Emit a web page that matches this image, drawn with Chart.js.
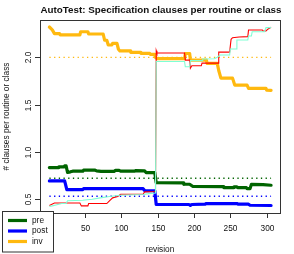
<!DOCTYPE html>
<html>
<head>
<meta charset="utf-8">
<script src="https://cdn.jsdelivr.net/npm/chart.js@4/dist/chart.umd.min.js"></script>
<style>
  html, body { margin: 0; padding: 0; background: #fff; }
  canvas { display: block; }
</style>
</head>
<body>
<canvas id="chart" width="294" height="254"></canvas>
<script>
// values: one revision array + one value array per series
const preRev = [1, 13, 14, 21, 22, 24, 26, 30, 33, 47, 48, 64, 66, 72, 90, 92, 97, 99, 118, 120,
  132, 134, 146, 148, 185, 186, 194, 198, 240, 241, 254, 255, 259, 260, 272, 273, 277, 279, 295, 306];
const preVal = [0.835, 0.835, 0.842, 0.842, 0.852, 0.852, 0.783, 0.79, 0.797, 0.797, 0.807, 0.807, 0.80, 0.795, 0.795, 0.805, 0.805, 0.797, 0.797, 0.803,
  0.80, 0.782, 0.782, 0.675, 0.673, 0.659, 0.659, 0.637, 0.634, 0.624, 0.624, 0.632, 0.632, 0.624, 0.624, 0.612, 0.612, 0.658, 0.655, 0.648];

const postRev = [1, 22, 25, 47, 48, 130, 132, 146, 148, 193, 195, 197, 215, 217, 259, 261, 275, 277, 306];
const postVal = [0.694, 0.694, 0.603, 0.603, 0.612, 0.612, 0.592, 0.59, 0.445, 0.445, 0.435, 0.445, 0.448, 0.455, 0.455, 0.448, 0.448, 0.437, 0.434];

const invRev = [1, 5, 8, 15, 16, 43, 44, 54, 55, 75, 77, 80, 82, 87, 88, 94, 96, 98, 112, 113,
  126, 127, 139, 140, 146, 147, 149, 187, 188, 194, 195, 217, 218, 232, 234, 237, 253, 256, 273, 275, 299, 300, 306];
const invVal = [2.32, 2.29, 2.25, 2.25, 2.236, 2.236, 2.27, 2.27, 2.246, 2.246, 2.18, 2.18, 2.13, 2.13, 2.148, 2.148, 2.085, 2.067, 2.067, 2.053,
  2.053, 2.042, 2.042, 2.03, 2.03, 2.0, 1.985, 1.985, 2.04, 2.04, 1.97, 1.97, 1.936, 1.936, 1.86, 1.78, 1.78, 1.707, 1.707, 1.672, 1.672, 1.654, 1.65];

// thin lines (no legend entry)
const redRev = [1, 8, 43, 45, 54, 55, 80, 84, 88, 95, 99, 130, 132, 147, 148, 149, 187, 188, 194, 195,
  197, 210, 211, 233, 234, 249, 251, 253, 262, 274, 275, 294, 295, 299, 302, 306];
const redVal = [0.435, 0.46, 0.46, 0.43, 0.43, 0.455, 0.455, 0.485, 0.515, 0.53, 0.553, 0.553, 0.578, 0.582, 2.07, 2.045, 2.045, 1.97, 1.97, 1.884,
  1.91, 1.91, 1.938, 1.938, 2.055, 2.055, 2.19, 2.207, 2.215, 2.218, 2.289, 2.289, 2.278, 2.278, 2.30, 2.317];

const aquaRev = [1, 5, 10, 18, 24, 26, 47, 60, 71, 84, 98, 130, 138, 147, 148, 187, 188, 194, 195, 211,
  212, 228, 232, 236, 249, 250, 258, 259, 274, 275, 279, 280, 297, 299, 306];
const aquaVal = [0.425, 0.43, 0.44, 0.455, 0.455, 0.485, 0.49, 0.50, 0.515, 0.53, 0.543, 0.55, 0.56, 0.567, 1.955, 1.955, 1.9, 1.9, 1.965, 1.965,
  1.982, 1.985, 2.0, 2.024, 2.024, 2.088, 2.088, 2.183, 2.183, 2.225, 2.225, 2.27, 2.27, 2.313, 2.313];

// dotted mean lines
const meanRev = [1, 306];
const preMean = [0.722, 0.722];
const postMean = [0.532, 0.532];
const invMean = [2.0, 2.0];

const xTicks = [50, 100, 150, 200, 250, 300];
const yTicks = [0.5, 1.0, 1.5, 2.0];
const yTickLabels = ['0.5', '1.0', '1.5', '2.0'];
const legendLabels = ['pre', 'post', 'inv'];

const FONT = "'Liberation Sans', Arial, sans-serif";
const colors = { pre: '#006400', post: '#0000FF', inv: '#FFB90F', red: '#FF0000', aqua: '#7FFFD4' };

function pts(revs, vals) {
    return revs.map((r, i) => ({ x: r, y: vals[i] }));
}

function thick(data, color) {
    return { data, borderColor: color, borderWidth: 3.2, borderCapStyle: 'round', borderJoinStyle: 'round' };
}
function thin(data, color) {
    return { data, borderColor: color, borderWidth: 1.1 };
}
function dotted(data, color) {
    return { data, borderColor: color, borderWidth: 1.3, borderDash: [1.3, 3.4] };
}

// R-like axes, box, titles and legend
const rDecor = {
    id: 'rDecor',
    afterDraw(chart) {
        const ctx = chart.ctx;
        const a = chart.chartArea;
        const xs = chart.scales.x, ys = chart.scales.y;
        ctx.save();
        ctx.strokeStyle = '#333';
        ctx.lineWidth = 1;
        ctx.strokeRect(a.left + 0.5, a.top + 0.5, a.right - a.left, a.bottom - a.top);

        ctx.fillStyle = '#111';
        ctx.font = '8.3px ' + FONT;
        ctx.textAlign = 'center';
        ctx.textBaseline = 'middle';
        xTicks.forEach(v => {
            const px = Math.round(xs.getPixelForValue(v)) + 0.5;
            ctx.beginPath();
            ctx.moveTo(px, a.bottom + 0.5);
            ctx.lineTo(px, a.bottom + 5);
            ctx.stroke();
            ctx.fillText(String(v), px, 229);
        });
        yTicks.forEach((v, i) => {
            const py = Math.round(ys.getPixelForValue(v)) + 0.5;
            ctx.beginPath();
            ctx.moveTo(a.left - 5, py);
            ctx.lineTo(a.left + 0.5, py);
            ctx.stroke();
            ctx.save();
            ctx.translate(29, py);
            ctx.rotate(-Math.PI / 2);
            ctx.fillText(yTickLabels[i], 0, 0);
            ctx.restore();
        });

        ctx.fillText('revision', (a.left + a.right) / 2, 249.5);
        ctx.save();
        ctx.translate(6.5, (a.top + a.bottom) / 2);
        ctx.rotate(-Math.PI / 2);
        ctx.fillText('# clauses per routine or class', 0, 0);
        ctx.restore();

        ctx.font = 'bold 9.8px ' + FONT;
        ctx.fillText('AutoTest: Specification clauses per routine or class', (a.left + a.right) / 2 + 1, 10.5);

        // legend
        ctx.fillStyle = '#fff';
        ctx.fillRect(2, 211, 52, 42);
        ctx.strokeStyle = '#333';
        ctx.strokeRect(2.5, 211.5, 51, 40.5);
        const legendColors = [colors.pre, colors.post, colors.inv];
        const rowY = [220.5, 231, 241.5];
        ctx.font = '8.3px ' + FONT;
        ctx.textAlign = 'left';
        legendLabels.forEach((lab, i) => {
            ctx.strokeStyle = legendColors[i];
            ctx.lineWidth = 3.2;
            ctx.beginPath();
            ctx.moveTo(8, rowY[i]);
            ctx.lineTo(27, rowY[i]);
            ctx.stroke();
            ctx.fillStyle = '#111';
            ctx.fillText(lab, 32, rowY[i]);
        });
        ctx.restore();
    }
};

new Chart(document.getElementById('chart'), {
    type: 'line',
    data: {
        datasets: [
            thin(pts(aquaRev, aquaVal), colors.aqua),
            thin(pts(redRev, redVal), colors.red),
            dotted(pts(meanRev, invMean), colors.inv),
            dotted(pts(meanRev, preMean), colors.pre),
            dotted(pts(meanRev, postMean), colors.post),
            thick(pts(preRev, preVal), colors.pre),
            thick(pts(postRev, postVal), colors.post),
            thick(pts(invRev, invVal), colors.inv)
        ]
    },
    options: {
        responsive: false,
        animation: false,
        events: [],
        layout: { padding: { left: 40, top: 20, right: 14, bottom: 41 } },
        elements: {
            point: { radius: 0 },
            line: { tension: 0, fill: false }
        },
        scales: {
            x: { type: 'linear', min: -11.9, max: 318.3, display: false },
            y: { type: 'linear', min: 0.355, max: 2.394, display: false }
        },
        plugins: {
            legend: { display: false },
            title: { display: false },
            tooltip: { enabled: false }
        }
    },
    plugins: [rDecor]
});
</script>
</body>
</html>
